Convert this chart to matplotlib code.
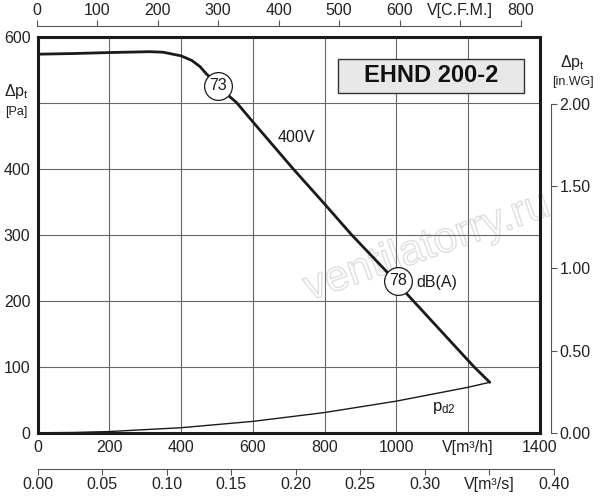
import numpy as np
import matplotlib
matplotlib.use("Agg")
import matplotlib.pyplot as plt
import matplotlib.patheffects as pe
from matplotlib.patches import Rectangle

plt.rcParams['font.family'] = ['Liberation Sans', 'DejaVu Sans']
plt.rcParams['mathtext.fontset'] = 'custom'
plt.rcParams['mathtext.rm'] = 'Liberation Sans'
plt.rcParams['mathtext.it'] = 'Liberation Sans:italic'
plt.rcParams['mathtext.bf'] = 'Liberation Sans:bold'

# ---- data ----
flow_fan = [0, 100, 200, 313, 350, 400, 430, 453, 469, 504, 536, 555, 600, 712, 800, 875, 973, 1028, 1216, 1260]
pres_fan = [573.5, 574.5, 576, 577.3, 576.5, 571, 564, 554.6, 544.6, 525.8, 509, 500, 471, 400, 346.5, 300, 244, 211, 100, 76.5]
flow_pd2 = [0, 100, 200, 400, 600, 800, 1000, 1200, 1260]
pres_pd2 = [0, 0.5, 1.9, 7.7, 17.3, 30.7, 48, 69, 76.5]
noise_flow = [504, 1005]
noise_pres = [526, 230]
noise_labels = ["73", "78"]

x_ticks = [0, 200, 400, 600, 800, 1000, 1200, 1400]
x_ticklabels = ["0", "200", "400", "600", "800", "1000", "V[m³/h]", "1400"]
y_ticks = [0, 100, 200, 300, 400, 500, 600]
y_ticklabels = ["0", "100", "200", "300", "400", "", "600"]
cfm_ticks = [0, 100, 200, 300, 400, 500, 600, 700, 800]
cfm_ticklabels = ["0", "100", "200", "300", "400", "500", "600", "V[C.F.M.]", "800"]
ms_ticks = [0.0, 0.05, 0.10, 0.15, 0.20, 0.25, 0.30, 0.35, 0.40]
ms_ticklabels = ["0.00", "0.05", "0.10", "0.15", "0.20", "0.25", "0.30", "V[m³/s]", "0.40"]
wg_ticks = [0.0, 0.5, 1.0, 1.5, 2.0]
wg_ticklabels = ["0.00", "0.50", "1.00", "1.50", "2.00"]
PA_PER_INWG = 249.089

W, H = 600, 500
fig = plt.figure(figsize=(6, 5), dpi=100)

def fx(px):
    return px / W

def fy(py):
    return 1 - py / H

L, R, T, B = 37.5, 540.0, 36.7, 432.8
ax = fig.add_axes([fx(L), fy(B), fx(R - L), fy(T) - fy(B)])
ax.set_xlim(0, 1400)
ax.set_ylim(0, 600)
ax.set_xticks(x_ticks)
ax.set_xticklabels(x_ticklabels)
ax.set_yticks(y_ticks)
ax.set_yticklabels(y_ticklabels)
ax.tick_params(length=0, labelsize=11.5, colors='#222222')
ax.tick_params(axis='x', pad=5)
ax.tick_params(axis='y', pad=5)
ax.grid(True, color='#666666', linewidth=0.8)
ax.set_axisbelow(True)
for s in ax.spines.values():
    s.set_linewidth(2.2)
    s.set_color('#1a1a1a')

# watermark
ax.text(0.775, 0.468, "ventilatorry.ru", transform=ax.transAxes, fontsize=31,
        color=(1, 1, 1, 0), rotation=19.5, ha='center', va='center', zorder=0.5,
        path_effects=[pe.withStroke(linewidth=1.0, foreground='#dedede')])

ax.plot(flow_pd2, pres_pd2, color='#1a1a1a', linewidth=1.0, zorder=3)
ax.plot(flow_fan, pres_fan, color='#1a1a1a', linewidth=2.0, zorder=3,
        solid_capstyle='round', solid_joinstyle='round')

for f, p, lab in zip(noise_flow, noise_pres, noise_labels):
    ax.plot([f], [p], 'o', ms=20, mfc='white', mec='#1a1a1a', mew=0.9, zorder=4)
    ax.text(f, p, lab, ha='center', va='center', fontsize=11.5, color='#1a1a1a', zorder=5)

ax.text(720, 448, "400V", ha='center', va='center', fontsize=11.5, color='#1a1a1a')
ax.text(1055, 228, "dB(A)", ha='left', va='center', fontsize=11.5, color='#1a1a1a')
ax.text(1098, 37, r"p$_\mathrm{d2}$", ha='left', va='center', fontsize=12, color='#1a1a1a')

# title box
ax.add_patch(Rectangle((0.598, 0.858), 0.370, 0.086, transform=ax.transAxes,
                       facecolor='#e8e8e8', edgecolor='#333333', linewidth=1.0, zorder=6))
ax.text(0.783, 0.901, "EHND 200-2", transform=ax.transAxes, ha='center', va='center',
        fontsize=17, fontweight='bold', color='#111111', zorder=7)

# left axis label
fig.text(fx(16), fy(92), r"Δp$_\mathrm{t}$", ha='center', va='center', fontsize=11.5, color='#222222')
fig.text(fx(16), fy(112), "[Pa]", ha='center', va='center', fontsize=9, color='#222222')

# top CFM axis
ax_top = fig.add_axes([fx(36.7), fy(26), fx(520.5 - 36.7), 0.0001])
ax_top.set_xlim(0, 800)
ax_top.set_ylim(0, 1)
ax_top.patch.set_visible(False)
for k in ['left', 'right', 'bottom']:
    ax_top.spines[k].set_visible(False)
ax_top.spines['top'].set_color('#555555')
ax_top.spines['top'].set_linewidth(0.8)
ax_top.xaxis.tick_top()
ax_top.set_xticks(cfm_ticks)
ax_top.set_xticklabels(cfm_ticklabels)
ax_top.set_yticks([])
ax_top.tick_params(axis='x', direction='out', length=4.5, width=0.8, color='#555555',
                   labelsize=11.5, pad=1.5, labelcolor='#222222')

# bottom m3/s axis
ax_ms = fig.add_axes([fx(37.7), fy(469), fx(553.7 - 37.7), 0.0001])
ax_ms.set_xlim(0, 0.40)
ax_ms.set_ylim(0, 1)
ax_ms.patch.set_visible(False)
for k in ['left', 'right', 'top']:
    ax_ms.spines[k].set_visible(False)
ax_ms.spines['bottom'].set_color('#555555')
ax_ms.spines['bottom'].set_linewidth(0.8)
ax_ms.set_xticks(ms_ticks)
ax_ms.set_xticklabels(ms_ticklabels)
ax_ms.set_yticks([])
ax_ms.tick_params(axis='x', direction='out', length=4.5, width=0.8, color='#555555',
                  labelsize=11.5, pad=1.5, labelcolor='#222222')

# right in.WG axis
ax_r = fig.add_axes([fx(551), fy(B), 0.0001, fy(T) - fy(B)])
ax_r.set_ylim(0, 600 / PA_PER_INWG)
ax_r.set_xlim(0, 1)
ax_r.patch.set_visible(False)
for k in ['left', 'top', 'bottom']:
    ax_r.spines[k].set_visible(False)
ax_r.spines['right'].set_color('#555555')
ax_r.spines['right'].set_linewidth(0.8)
ax_r.spines['right'].set_bounds(0, 2.0)
ax_r.yaxis.tick_right()
ax_r.set_yticks(wg_ticks)
ax_r.set_yticklabels(wg_ticklabels)
ax_r.set_xticks([])
ax_r.tick_params(axis='y', direction='out', length=4.5, width=0.8, color='#555555',
                 labelsize=11.5, pad=1.5, labelcolor='#222222')

fig.text(fx(572), fy(62), r"Δp$_\mathrm{t}$", ha='center', va='center', fontsize=11.5, color='#222222')
fig.text(fx(573), fy(82), "[in.WG]", ha='center', va='center', fontsize=9, color='#222222')

fig.savefig("out.png", dpi=100, facecolor='white')
